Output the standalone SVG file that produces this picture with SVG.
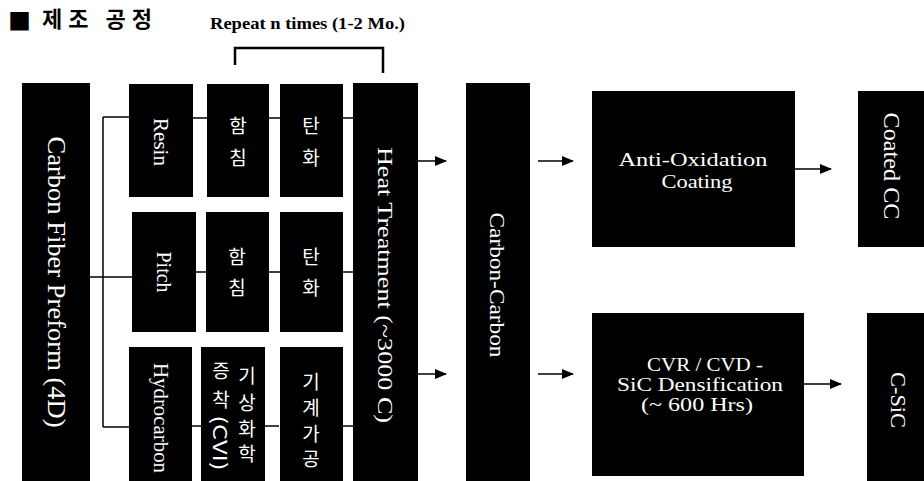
<svg xmlns="http://www.w3.org/2000/svg" width="924" height="481" viewBox="0 0 924 481">
<defs>
<style>
.box{fill:#000}
.en{fill:#fff;font-family:"Liberation Serif","Times New Roman",serif;text-anchor:middle;dominant-baseline:central}
.ent{fill:#fff;font-family:"Liberation Serif","Times New Roman",serif;text-anchor:middle}
.kr{fill:#fff;font-family:"Noto Sans CJK KR","Noto Sans",sans-serif;text-anchor:middle;dominant-baseline:central;font-size:19px}
.ln{stroke:#000;stroke-width:1.5;fill:none}
.br{stroke:#000;stroke-width:2.5;fill:none}
.arr{stroke:#000;stroke-width:1.5;fill:none;marker-end:url(#ah)}
</style>
<marker id="ah" markerUnits="userSpaceOnUse" markerWidth="12" markerHeight="10" refX="11" refY="5" orient="auto">
<path d="M0,0 L12,5 L0,10 z" fill="#000"/>
</marker>
</defs>
<rect width="924" height="481" fill="#fff"/>

<g id="title">
<text x="8" y="30" font-family="'Noto Sans CJK KR',sans-serif" font-size="23" fill="#000">■</text>
<text x="42" y="27" font-family="'Noto Sans CJK KR',sans-serif" font-weight="bold" font-size="22" fill="#000" textLength="110" lengthAdjust="spacing">제조 공정</text>
<text x="210" y="29" font-family="'Liberation Serif',serif" font-weight="bold" font-size="16" fill="#000" textLength="195" lengthAdjust="spacingAndGlyphs">Repeat n times (1-2 Mo.)</text>
<path class="br" d="M235,65 V48 H383 V73"/>
</g>

<g id="connectors">
<path class="ln" d="M90,277 H132"/>
<path class="ln" d="M103,117 V427"/>
<path class="ln" d="M103,117 H129"/>
<path class="ln" d="M103,427 H129"/>
<path class="ln" d="M193,118 H207 M269,118 H280 M343,118 H353"/>
<path class="ln" d="M196,272 H206 M269,272 H280 M343,272 H353"/>
<path class="ln" d="M192,426 H202 M265,426 H279 M343,426 H353"/>
<path class="arr" d="M418,161 H446"/>
<path class="arr" d="M418,374 H446"/>
<path class="arr" d="M538,161 H573"/>
<path class="arr" d="M538,374 H573"/>
<path class="arr" d="M795,169 H831"/>
<path class="arr" d="M804,384 H841"/>
</g>

<g id="preform">
<rect class="box" x="22" y="83" width="68" height="398"/>
<text class="en" transform="translate(56,282) rotate(90)" font-size="26" textLength="291" lengthAdjust="spacingAndGlyphs">Carbon Fiber Preform (4D)</text>
</g>

<g id="resin">
<rect class="box" x="129" y="84" width="64" height="113"/>
<text class="en" transform="translate(161,142) rotate(90)" font-size="20" textLength="48" lengthAdjust="spacingAndGlyphs">Resin</text>
</g>
<g id="pitch">
<rect class="box" x="132" y="212" width="64" height="120"/>
<text class="en" transform="translate(164,272) rotate(90)" font-size="20" textLength="41" lengthAdjust="spacingAndGlyphs">Pitch</text>
</g>
<g id="hydrocarbon">
<rect class="box" x="129" y="347" width="63" height="134"/>
<text class="en" transform="translate(161,418) rotate(90)" font-size="20" textLength="110" lengthAdjust="spacingAndGlyphs">Hydrocarbon</text>
</g>

<g id="impreg1">
<rect class="box" x="207" y="84" width="62" height="113"/>
<text class="kr" x="238" y="124">함</text>
<text class="kr" x="238" y="156">침</text>
</g>
<g id="carbon1">
<rect class="box" x="280" y="84" width="63" height="113"/>
<text class="kr" x="311" y="124">탄</text>
<text class="kr" x="311" y="156">화</text>
</g>
<g id="impreg2">
<rect class="box" x="206" y="212" width="63" height="120"/>
<text class="kr" x="237" y="255">함</text>
<text class="kr" x="237" y="286">침</text>
</g>
<g id="carbon2">
<rect class="box" x="280" y="212" width="63" height="120"/>
<text class="kr" x="311" y="255">탄</text>
<text class="kr" x="311" y="286">화</text>
</g>
<g id="cvi">
<rect class="box" x="201" y="347" width="64" height="134"/>
<text class="kr" x="247" y="374" font-size="20">기</text>
<text class="kr" x="247" y="401" font-size="20">상</text>
<text class="kr" x="247" y="427" font-size="20">화</text>
<text class="kr" x="247" y="452" font-size="20">학</text>
<text class="kr" x="221" y="369" font-size="20">증</text>
<text class="kr" x="221" y="398" font-size="20">착</text>
<text class="kr" transform="translate(221,443) rotate(90)" font-size="19" textLength="55" lengthAdjust="spacingAndGlyphs">(CVI)</text>
</g>
<g id="machining">
<rect class="box" x="280" y="347" width="63" height="134"/>
<text class="kr" x="311" y="380" font-size="20">기</text>
<text class="kr" x="311" y="406" font-size="20">계</text>
<text class="kr" x="311" y="432" font-size="20">가</text>
<text class="kr" x="311" y="457" font-size="20">공</text>
</g>

<g id="heat">
<rect class="box" x="353" y="83" width="65" height="398"/>
<text class="en" transform="translate(385,285) rotate(90)" font-size="22" textLength="276" lengthAdjust="spacingAndGlyphs">Heat Treatment (~3000 C)</text>
</g>

<g id="cc">
<rect class="box" x="466" y="83" width="64" height="398"/>
<text class="en" transform="translate(497,285) rotate(90)" font-size="22" textLength="145" lengthAdjust="spacingAndGlyphs">Carbon-Carbon</text>
</g>

<g id="antiox">
<rect class="box" x="592" y="91" width="203" height="156"/>
<text class="ent" x="693" y="166" font-size="19" textLength="149" lengthAdjust="spacingAndGlyphs">Anti-Oxidation</text>
<text class="ent" x="697" y="188" font-size="19" textLength="71" lengthAdjust="spacingAndGlyphs">Coating</text>
</g>

<g id="cvr">
<rect class="box" x="592" y="313" width="212" height="163"/>
<text class="ent" x="705" y="371" font-size="18" textLength="116" lengthAdjust="spacingAndGlyphs">CVR / CVD -</text>
<text class="ent" x="700" y="391" font-size="18" textLength="166" lengthAdjust="spacingAndGlyphs">SiC Densification</text>
<text class="ent" x="697" y="411" font-size="18" textLength="112" lengthAdjust="spacingAndGlyphs">(~ 600 Hrs)</text>
</g>

<g id="coatedcc">
<rect class="box" x="858" y="91" width="66" height="156"/>
<text class="en" transform="translate(891,166) rotate(90)" font-size="23" textLength="107" lengthAdjust="spacingAndGlyphs">Coated CC</text>
</g>

<g id="csic">
<rect class="box" x="867" y="313" width="57" height="168"/>
<text class="en" transform="translate(898,400) rotate(90)" font-size="22" textLength="56" lengthAdjust="spacingAndGlyphs">C-SiC</text>
</g>
</svg>
